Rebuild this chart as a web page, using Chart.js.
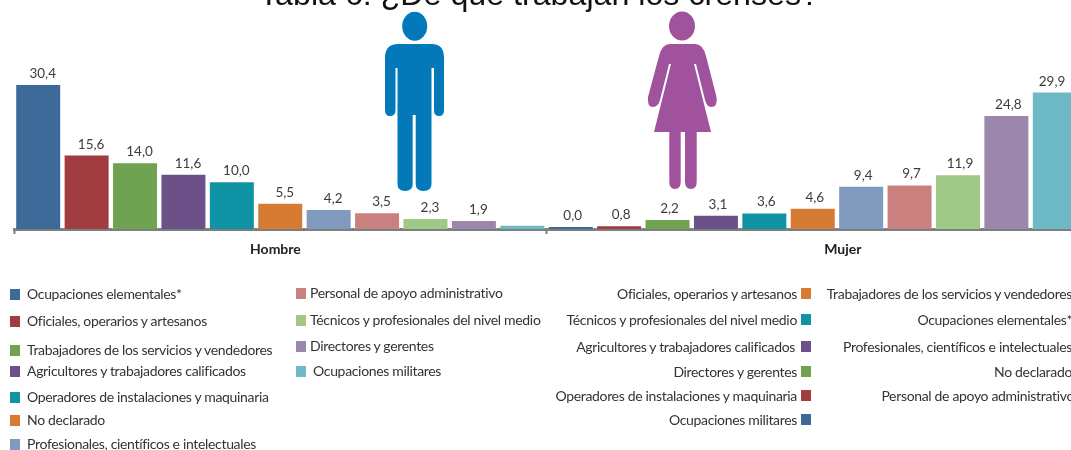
<!DOCTYPE html>
<html lang="es">
<head>
<meta charset="utf-8">
<script src="https://cdn.jsdelivr.net/npm/chart.js@4/dist/chart.umd.min.js"></script>
<style>
html,body{margin:0;padding:0;background:#fff;width:1071px;height:450px;overflow:hidden}
#stage{position:absolute;left:0;top:0;width:1085px;height:450px;overflow:hidden}
canvas{position:absolute;left:0;top:0}
svg{position:absolute;left:0;top:0}
.lg{position:absolute;font:14px Lato,sans-serif;color:#333;white-space:nowrap;line-height:16px;letter-spacing:-.33px}
.sw{position:absolute;width:10px;height:11px}
</style>
</head>
<body>
<div id="stage">
<canvas id="c" width="1085" height="450"></canvas>
<svg width="1071" height="450" viewBox="0 0 1071 450">
<ellipse cx="414.7" cy="26.3" rx="12.5" ry="14.5" fill="#0379ba"/>
<path fill="#0379ba" d="M398 44H432Q444 44 444 58V110Q444 116 439 116Q434 116 434 110V68H431.5V184Q431.5 191 423.5 191Q415.7 191 415.7 184V115H412.7V184Q412.7 191 405 191Q397.5 191 397.5 184V68H395.5V110Q395.5 116 390 116Q385 116 385 110V58Q385 44 398 44Z"/>
<ellipse cx="682" cy="26" rx="13" ry="14.5" fill="#a0529c"/>
<path fill="#a0529c" d="M670 44H695Q703 44 706 56L716.5 97Q718 107 711 107Q707 107 705 100L696 64L694 64L711 132H696.7V182Q696.7 189 691 189Q685 189 685 182V132H680.7V182Q680.7 189 675 189Q669.3 189 669.3 182V132H654L671 64L669 64L660 100Q658 107 653 107Q647 107 648 97L659 56Q662 44 670 44Z"/>
</svg>
</div>
<script>
const chartTitle = "Tabla 6: ¿De qué trabajan los crenses?";
const groupNames = ["Hombre", "Mujer"];
const categoriesMale = ["Ocupaciones elementales*","Oficiales, operarios y artesanos","Trabajadores de los servicios y vendedores","Agricultores y trabajadores calificados","Operadores de instalaciones y maquinaria","No declarado","Profesionales, científicos e intelectuales","Personal de apoyo administrativo","Técnicos y profesionales del nivel medio","Directores y gerentes","Ocupaciones militares"];
const valuesMale = [30.4,15.6,14.0,11.6,10.0,5.5,4.2,3.5,2.3,1.9,0.9];
const categoriesFemale = ["Ocupaciones militares","Operadores de instalaciones y maquinaria","Directores y gerentes","Agricultores y trabajadores calificados","Técnicos y profesionales del nivel medio","Oficiales, operarios y artesanos","Trabajadores de los servicios y vendedores","Ocupaciones elementales*","Profesionales, científicos e intelectuales","No declarado","Personal de apoyo administrativo"];
const valuesFemale = [0.0,0.8,2.2,3.1,3.6,4.6,9.4,9.7,11.9,24.8,29.9];
const rankColors = ["#3d6a99","#a13d40","#6fa352","#6b5187","#1094a5","#d67b33","#7f9abd","#cb8080","#a0c887","#9a87ab","#6db9c6"];

const labels = [...categoriesMale.map(c=>groupNames[0]+": "+c), ...categoriesFemale.map(c=>groupNames[1]+": "+c)];
const splitIndex = categoriesMale.length;
const unlabeledIndex = splitIndex - 1;
const blanks = Array(splitIndex).fill(null);
const axisColor = "#7a807e";
const barStyle = {backgroundColor:rankColors,borderColor:"rgba(255,255,255,.35)",borderWidth:1,minBarLength:3,barPercentage:.95,categoryPercentage:1,grouped:false};

const textPlugin = {
  id:"texts",
  afterDatasetsDraw(chart){
    const {ctx,scales:{x}} = chart;
    ctx.save();
    ctx.fillStyle="#3c3c3c";
    ctx.font="13.5px Lato, sans-serif";
    ctx.textAlign="center"; ctx.textBaseline="alphabetic";
    chart.data.datasets.forEach((ds,d)=>{
      const shift = d===0 ? 4.5 : 2;
      chart.getDatasetMeta(d).data.forEach((bar,i)=>{
        if(ds.data[i]===null||i===unlabeledIndex) return;
        ctx.fillText(ds.data[i].toFixed(1).replace(".",","), Math.min(bar.x+shift,1052), Math.min(bar.y,chart.chartArea.bottom-2)-6);
      });
    });
    ctx.fillStyle="#222";
    ctx.font="bold 14px Lato, sans-serif";
    const w = x.width/labels.length;
    ctx.fillText(groupNames[0], x.left+w*5.4, 254);
    ctx.fillText(groupNames[1], x.left+w*17.12, 254);
    ctx.fillStyle="#111";
    ctx.font="32.2px 'Liberation Sans', Arial, sans-serif";
    ctx.fillText(chartTitle, 539, 5);
    ctx.restore();
  }
};

new Chart(document.getElementById("c"),{
  type:"bar",
  data:{labels,datasets:[
    {...barStyle,data:[...valuesMale,...blanks],yAxisID:"y"},
    {...barStyle,data:[...blanks,...valuesFemale],yAxisID:"y2"}
  ]},
  options:{
    responsive:false,animation:false,
    layout:{padding:{left:14,right:6,top:0,bottom:216}},
    plugins:{legend:{display:false},title:{display:false},tooltip:{enabled:false}},
    scales:{
      x:{
        offset:true,
        border:{display:true,color:axisColor,width:3},
        grid:{offset:true,drawOnChartArea:false,drawTicks:true,tickLength:5,tickWidth:2,
          tickColor:c=>(c.index===0||c.index===splitIndex)?axisColor:"rgba(0,0,0,0)"},
        ticks:{display:false}
      },
      y:{display:false,min:0,max:48},
      y2:{display:false,min:0,max:49.8}
    }
  },
  plugins:[textPlugin]
});

/* legend */
const colorOf = name => rankColors[categoriesMale.indexOf(name)];
const femaleColorOf = name => rankColors[categoriesFemale.indexOf(name)];
const stage = document.getElementById("stage");
function addText(t,left,right,cy){
  const d=document.createElement("div");d.className="lg";d.textContent=t;
  d.style.top=(cy-8)+"px";
  if(left!=null)d.style.left=left+"px"; else d.style.right=(1085-right)+"px";
  stage.appendChild(d);
}
function addSwatch(color,x,cy){
  const d=document.createElement("div");d.className="sw";d.style.background=color;
  d.style.left=x+"px";d.style.top=(cy-5.5)+"px";stage.appendChild(d);
}
const maleRows = [[10,27,294],[10,27,321],[10,27,350],[10,27,371],[10,27,397],[10,27,420],[10,27,444],
                  [296,310,293],[296,310,320],[296,310,346],[296,313,371]];
categoriesMale.forEach((n,i)=>{const r=maleRows[i];addSwatch(colorOf(n),r[0],r[2]);addText(n,r[1],null,r[2]);});
const femaleLegend = [
 ["Oficiales, operarios y artesanos",797,294],["Técnicos y profesionales del nivel medio",797,320],
 ["Agricultores y trabajadores calificados",795,347],["Directores y gerentes",797,372],
 ["Operadores de instalaciones y maquinaria",797,396],["Ocupaciones militares",797,420],
 ["Trabajadores de los servicios y vendedores",1072,294],["Ocupaciones elementales*",1072,320],
 ["Profesionales, científicos e intelectuales",1072,347],["No declarado",1072,372],
 ["Personal de apoyo administrativo",1074,396]];
femaleLegend.forEach(r=>{addText(r[0],null,r[1],r[2]);addSwatch(femaleColorOf(r[0]),r[1]+4+(r[1]===795?2:0),r[2]-1);});
</script>
</body>
</html>
